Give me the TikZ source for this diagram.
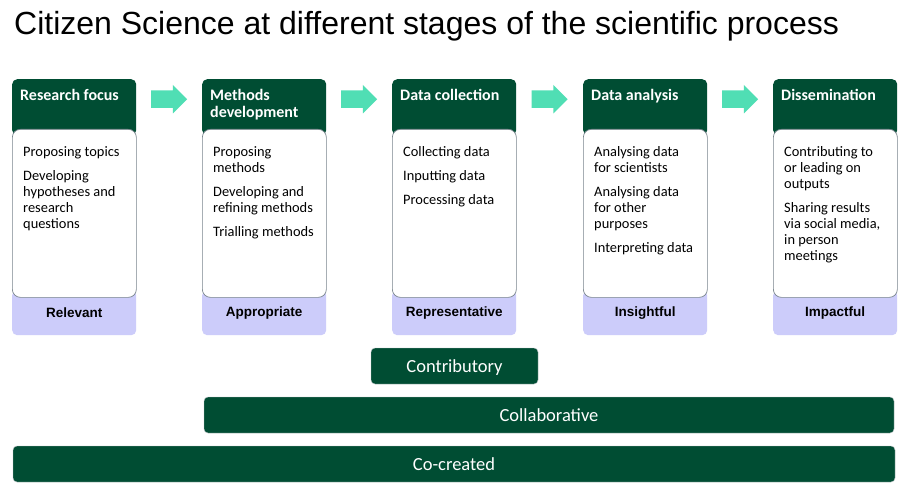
\documentclass[tikz,border=0pt]{standalone}
\usepackage{fontspec}
\setmainfont{Carlito}
\newfontfamily\arialfont{Liberation Sans}
\usetikzlibrary{shapes.arrows,calc}
\definecolor{stagegreen}{RGB}{0,77,51}
\definecolor{flowcyan}{RGB}{80,222,180}
\definecolor{critpurple}{RGB}{204,204,250}
\definecolor{cardgrey}{RGB}{120,132,140}

\begin{document}
\begin{tikzpicture}[
    x=1pt, y=-1pt,
    header/.style={
        fill=stagegreen,
        rounded corners=5pt,
        minimum width=124pt,
        minimum height=56pt,
        inner sep=0pt
    },
    headtext/.style={
        font=\fontsize{16}{17}\selectfont\bfseries,
        text=white,
        align=left,
        inner sep=0pt
    },
    card/.style={
        fill=white,
        draw=cardgrey,
        line width=0.7pt,
        rounded corners=8pt,
        minimum width=124pt,
        minimum height=168pt,
        inner sep=0pt
    },
    cardtext/.style={
        font=\fontsize{14.4}{16}\selectfont,
        align=left,
        inner sep=0pt
    },
    criterion/.style={
        fill=critpurple,
        rounded corners=5pt,
        minimum width=124pt,
        minimum height=45pt,
        inner sep=0pt,
        font=\arialfont\fontsize{13.5}{15}\selectfont\bfseries
    },
    flow/.style={
        single arrow,
        fill=flowcyan,
        inner sep=8.5pt,
        minimum height=36pt,
        single arrow head extend=5.5pt
    },
    level/.style={
        fill=stagegreen,
        draw=cardgrey!50,
        rounded corners=4pt,
        minimum height=36pt,
        inner sep=0pt,
        text depth=0pt,
        text=white,
        font=\fontsize{18.5}{20}\selectfont
    }
]
    \path[use as bounding box, fill=white] (0,0) rectangle (909,494);

    \node[anchor=base west, inner sep=0pt, font=\arialfont\fontsize{32}{36}\selectfont]
        (title) at (14,35) {Citizen Science at different stages of the scientific process};

    \foreach \i/\x/\head/\body/\crit in {
        1/12/{Research focus}/{Proposing topics\\[8pt]Developing\\hypotheses and\\research\\questions}/Relevant,
        2/202/{Methods\\development}/{Proposing\\methods\\[8pt]Developing and\\refining methods\\[8pt]Trialling methods}/Appropriate,
        3/392/{Data collection}/{Collecting data\\[8pt]Inputting data\\[8pt]Processing data}/Representative,
        4/583/{Data analysis}/{Analysing data\\for scientists\\[8pt]Analysing data\\for other\\purposes\\[8pt]Interpreting data}/Insightful,
        5/773/{Dissemination}/{Contributing to\\or leading on\\outputs\\[8pt]Sharing results\\via social media,\\in person\\meetings}/Impactful%
    } {
        \node[header, anchor=north west] (head\i) at (\x,79) {};
        \node[criterion, anchor=north west] (crit\i) at (\x,290) {\crit};
        \node[card, anchor=north west] (card\i) at (\x,129) {};
        \node[headtext, anchor=north west] (headtext\i)
            at ([xshift=8pt, yshift=-10.5pt]head\i.north west) {\head};
        \node[cardtext, anchor=north west] (cardtext\i)
            at ([xshift=11pt, yshift=-17pt]card\i.north west) {\body};
    }

    \foreach \u/\v in {1/2, 2/3, 3/4, 4/5} {
        \node[flow] (flow\u) at ($(head\u.east)!0.5!(head\v.west)+(-4.5,-8)$) {};
    }

    \node[level, minimum width=167pt] (contributory) at (454.5,366) {Contributory};
    \node[level, minimum width=690pt] (collaborative) at (549,415) {Collaborative};
    \node[level, minimum width=882pt] (cocreated) at (454,464) {Co-created};

\end{tikzpicture}
\end{document}
